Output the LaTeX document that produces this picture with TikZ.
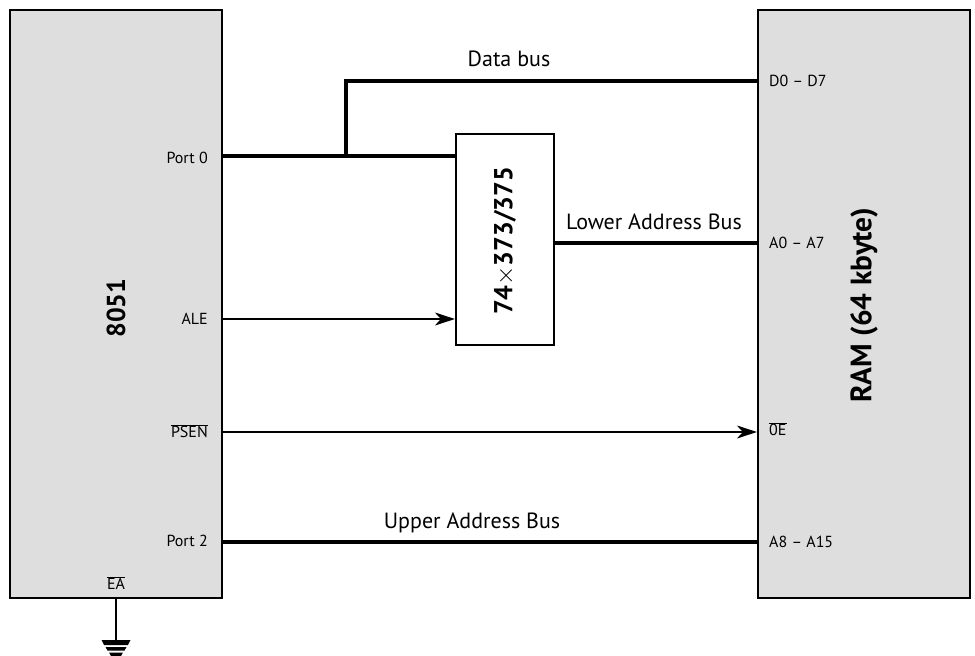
\documentclass[tikz,border=0pt]{standalone}
\usepackage{fontspec}
\setmainfont{PT Sans}
\usepackage{tikz}
\usetikzlibrary{arrows.meta,positioning,calc}
\definecolor{chipgray}{RGB}{222,222,222}
\newcommand{\negpin}[1]{$\overline{\mbox{#1}}$}

\begin{document}
\begin{tikzpicture}[
    x=1pt, y=-1pt,
    % --- STYLES ---
    chip/.style={
        rectangle, draw=black, fill=chipgray,
        line width=2.2pt,
        minimum width=212pt, minimum height=588pt,
        inner sep=0pt
    },
    latch/.style={
        rectangle, draw=black, fill=white,
        line width=2.2pt,
        minimum width=98pt, minimum height=211pt,
        inner sep=0pt
    },
    chiplabel/.style={font=\fontsize{26}{30}\selectfont\bfseries, rotate=90, inner sep=0pt},
    pin/.style={font=\fontsize{16}{19}\selectfont, inner sep=0pt},
    buslabel/.style={font=\fontsize{22}{26}\selectfont, inner sep=0pt},
    bus/.style={line width=3.6pt},
    control/.style={line width=1.1pt, -{Stealth[length=20pt,width=13pt,inset=6pt]}}
]
\useasboundingbox (0,0) rectangle (975,656);

% ===== 1. BLOCKS =====
\node[chip] (cpu) at (116,304) {};
\node[chip] (ram) at (864,304) {};
\node[latch] (ltch) at (505,239.5) {};

\node[chiplabel] (cpulabel) at (116,308) {8051};
\node[chiplabel, font=\fontsize{29.5}{34}\selectfont\bfseries] (ramlabel) at (864,305) {RAM (64 kbyte)};
\node[chiplabel] (ltchlabel) at (505,241) {74$\times$373/375};

% ===== 2. PIN LABELS =====
\node[pin, anchor=east] (port0) at (208,158) {Port 0};
\node[pin, anchor=east] (ale) at (208,319) {ALE};
\node[pin, anchor=east] (psen) at (208,431) {\negpin{PSEN}};
\node[pin, anchor=east] (port2) at (208,541) {Port 2};
\node[pin] (ea) at (116,583) {\negpin{EA}};

\node[pin, anchor=west] (d0) at (769,81) {D0 -- D7};
\node[pin, anchor=west] (a0) at (769,243) {A0 -- A7};
\node[pin, anchor=west] (oe) at (769,429) {\negpin{0E}};
\node[pin, anchor=west] (a8) at (769,542) {A8 -- A15};

% ===== 3. CONNECTIONS =====
\coordinate (branch) at (346,156);
\coordinate (gnd) at (116,640);

% -- Buses --
\draw[bus] (cpu.east |- 0,156) -- (ltch.west |- 0,156);
\draw[bus] (branch) -- (346,81) -- (ram.west |- 0,81);
\draw[bus] (ltch.east |- 0,243) -- node[buslabel, above=11pt, xshift=-2pt] {Lower Address Bus} (ram.west |- 0,243);
\draw[bus] (cpu.east |- 0,542) -- node[buslabel, above=7pt, xshift=-18pt] {Upper Address Bus} (ram.west |- 0,542);
\node[buslabel] (databus) at (509,59) {Data bus};

% -- Control lines --
\draw[control] (cpu.east |- 0,319) -- (ltch.west |- 0,319);
\draw[control] (cpu.east |- 0,432) -- (ram.west |- 0,432);

% -- Ground --
\draw[line width=1.3pt] (cpu.south -| gnd) -- (gnd);
\fill (gnd) ++(-14.5,0) -- ++(29,0) -- ++(-2.6,5) -- ++(-23.8,0) -- cycle;
\fill (gnd) ++(-10.5,7) -- ++(21,0) -- ++(-2,3.5) -- ++(-17,0) -- cycle;
\fill (gnd) ++(-7,12.5) -- ++(14,0) -- ++(-2,3.5) -- ++(-10,0) -- cycle;

\end{tikzpicture}
\end{document}
